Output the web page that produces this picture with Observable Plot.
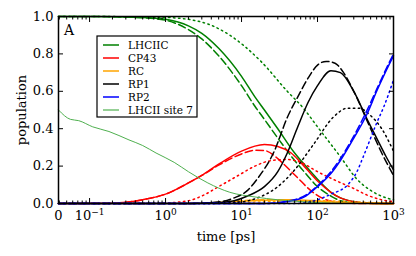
<!DOCTYPE html>
<html>
<head>
<meta charset="utf-8">
<script src="https://cdn.jsdelivr.net/npm/d3@7"></script>
<script src="https://cdn.jsdelivr.net/npm/@observablehq/plot@0.6"></script>
<style>
html,body{margin:0;padding:0;background:#fff;}
</style>
</head>
<body>
<div id="chart"></div>
<script>
// ---------- data (time in ps, population) ----------
const T0 = 0.039; // left edge of the axis, labelled "0"

const LHCIIC_solid  = [[0,1],[0.1,1],[0.5,0.995],[1,0.985],[2,0.95],[3,0.91],[5,0.83],[10,0.68],[15,0.57],[20,0.50],[30,0.40],[50,0.27],[70,0.2],[100,0.13],[150,0.06],[200,0.03],[300,0.01],[500,0.002],[1000,0]];
const LHCIIC_dashed = [[0,1],[0.1,1],[0.5,0.993],[1,0.98],[2,0.93],[3,0.88],[5,0.79],[10,0.63],[15,0.52],[20,0.45],[30,0.35],[50,0.23],[70,0.16],[100,0.09],[150,0.04],[200,0.015],[300,0.004],[1000,0]];
const LHCIIC_dotted = [[0,1],[0.1,1],[1,0.995],[3,0.97],[7,0.90],[18,0.76],[40,0.60],[65,0.51],[100,0.41],[200,0.25],[330,0.13],[500,0.07],[800,0.03],[1000,0.02]];

const CP43_solid  = [[0,0],[0.2,0.002],[0.5,0.02],[1,0.05],[2,0.11],[3,0.15],[5,0.21],[10,0.28],[20,0.315],[30,0.305],[45,0.27],[60,0.22],[100,0.12],[150,0.06],[200,0.03],[300,0.01],[500,0.002],[1000,0]];
const CP43_dashed = [[0,0],[0.2,0.002],[0.5,0.02],[1,0.05],[2,0.11],[3,0.15],[5,0.205],[10,0.265],[15,0.285],[20,0.283],[30,0.24],[36,0.21],[54,0.14],[81,0.07],[120,0.025],[200,0.005],[400,0],[1000,0]];
const CP43_dotted = [[0,0],[0.5,0],[1,0.003],[2,0.015],[3,0.04],[5,0.09],[10,0.16],[15,0.2],[25,0.23],[40,0.235],[60,0.22],[100,0.17],[180,0.12],[300,0.08],[450,0.045],[700,0.02],[1000,0.01]];

const RC_solid  = [[0,0],[2,0],[5,0.005],[10,0.012],[20,0.018],[40,0.02],[70,0.018],[100,0.014],[200,0.006],[400,0.002],[1000,0]];
const RC_dashed = [[0,0],[2,0],[5,0.006],[10,0.015],[20,0.02],[40,0.018],[70,0.013],[100,0.009],[200,0.003],[1000,0]];
const RC_dotted = [[0,0],[3,0],[10,0.005],[30,0.012],[60,0.015],[100,0.015],[200,0.012],[400,0.007],[700,0.003],[1000,0.002]];

const RP1_solid  = [[0,0],[2,0],[5,0.005],[8,0.015],[12,0.04],[20,0.09],[30,0.17],[40,0.27],[55,0.41],[75,0.54],[100,0.63],[150,0.71],[200,0.70],[300,0.60],[450,0.45],[600,0.35],[800,0.25],[1000,0.18]];
const RP1_dashed = [[0,0],[2,0],[5,0.008],[8,0.03],[12,0.07],[16,0.13],[27,0.28],[40,0.46],[55,0.57],[75,0.67],[100,0.74],[130,0.76],[170,0.75],[220,0.70],[300,0.60],[500,0.40],[700,0.27],[1000,0.15]];
const RP1_dotted = [[0,0],[3,0],[8,0.005],[15,0.025],[30,0.09],[50,0.18],[90,0.32],[160,0.46],[250,0.51],[350,0.51],[500,0.47],[700,0.40],[1000,0.28]];

const RP2_solid  = [[0,0],[20,0],[40,0.01],[70,0.04],[100,0.09],[150,0.16],[200,0.23],[300,0.35],[450,0.48],[600,0.60],[800,0.71],[1000,0.79]];
const RP2_dashed = [[0,0],[20,0],[40,0.012],[70,0.045],[100,0.095],[150,0.17],[200,0.24],[300,0.36],[450,0.50],[600,0.61],[800,0.72],[1000,0.80]];
const RP2_dotted = [[0,0],[50,0],[100,0.02],[150,0.05],[250,0.10],[330,0.17],[400,0.25],[600,0.43],[750,0.52],[1000,0.66]];

const LHCII_site7 = [[0,0.50],[0.056,0.45],[0.072,0.443],[0.11,0.41],[0.18,0.385],[0.33,0.34],[0.5,0.31],[0.75,0.27],[1.3,0.22],[2,0.17],[3.6,0.11],[7,0.06],[15,0.035],[30,0.02],[60,0.01],[100,0.005],[200,0.001],[1000,0]];

const species = ["LHCIIC","CP43","RC","RP1","RP2","LHCII site 7"];
const colors  = ["#008000","#ff0000","#ffa500","#000000","#0000ff","#4fb04f"];

const xMajor = [T0, 0.1, 1, 10, 100, 1000];
const xTickBase = ["0","10","10","10","10","10"];
const xTickExp  = ["","\u22121","0","1","2","3"];
const yTicks = [0, 0.2, 0.4, 0.6, 0.8, 1.0];
const xMinor = [];
for (const e of [-2,-1,0,1,2]) for (const m of [2,3,4,5,6,7,8,9]) { const v = m*Math.pow(10,e); if (v > T0 && v < 1000) xMinor.push(v); }

const FONT = "'DejaVu Serif','Liberation Serif',serif";

// ---------- marks ----------
const DASH = "7.5,3.5", DOT = "1.5,3.5";
const X = d => Math.max(d[0], T0), Y = d => d[1];
function ln(data, color, dash, w=1.5) {
  return Plot.line(data, {x: X, y: Y, stroke: color, strokeWidth: w, strokeDasharray: dash, curve: "monotone-x"});
}
const groups = [
  [LHCIIC_solid, LHCIIC_dashed, LHCIIC_dotted],
  [CP43_solid, CP43_dashed, CP43_dotted],
  [RC_solid, RC_dashed, RC_dotted],
  [RP1_solid, RP1_dashed, RP1_dotted],
  [RP2_solid, RP2_dashed, RP2_dotted]
];
const lineMarks = [];
groups.forEach((g, i) => {
  lineMarks.push(ln(g[0], colors[i], null));
  lineMarks.push(ln(g[1], colors[i], DASH));
  lineMarks.push(ln(g[2], colors[i], DOT));
});
lineMarks.push(ln(LHCII_site7, colors[5], null, 1));

const chart = Plot.plot({
  width: 416, height: 256,
  marginLeft: 58, marginRight: 23, marginTop: 16, marginBottom: 53,
  style: {fontFamily: FONT, fontSize: "13px", background: "#fff", color: "#000"},
  x: {type: "log", domain: [T0, 1000]},
  y: {domain: [0, 1]},
  marks: [
    ...lineMarks,
    Plot.axisX({ticks: xMajor, tickSize: -5, tickPadding: 12, tickFormat: () => "x", label: "time [ps]", labelAnchor: "center", labelOffset: 37, labelArrow: "none"}),
    Plot.axisX({ticks: xMinor, tickSize: -2.5, tickFormat: () => "", label: null}),
    Plot.axisX({anchor: "top", ticks: xMajor, tickSize: -5, tickFormat: () => "", label: null}),
    Plot.axisX({anchor: "top", ticks: xMinor, tickSize: -2.5, tickFormat: () => "", label: null}),
    Plot.axisY({ticks: yTicks, tickSize: -5, tickPadding: 10, tickFormat: d3.format(".1f"), label: "population", labelAnchor: "center", labelOffset: 42, labelArrow: "none"}),
    Plot.axisY({anchor: "right", ticks: yTicks, tickSize: -5, tickFormat: () => "", label: null}),
    Plot.frame({stroke: "#000", strokeWidth: 1.5})
  ]
});
document.getElementById("chart").appendChild(chart);

// x tick labels with superscript exponents (in tick order)
const svg = d3.select(chart);
svg.select('[aria-label="x-axis tick label"]').selectAll("text").each(function(d, i) {
  const t = d3.select(this);
  t.text(null);
  t.append("tspan").text(xTickBase[i]);
  if (xTickExp[i]) t.append("tspan").attr("dy", "-0.5em").attr("font-size", "9px").text(xTickExp[i]);
});

// panel letter
svg.append("text").attr("x", 64).attr("y", 35).attr("text-anchor", "start").attr("font-family", FONT).attr("font-size", "14px").text("A");

// legend
const lg = svg.append("g").attr("font-family", FONT).attr("font-size", "10.5px").attr("text-anchor", "start");
lg.append("rect").attr("x", 97).attr("y", 36).attr("width", 100).attr("height", 81).attr("fill", "#fff").attr("stroke", "#000").attr("stroke-width", 1.2);
species.forEach((s, i) => {
  const yy = 45 + i * 13;
  lg.append("line").attr("x1", 103).attr("x2", 119).attr("y1", yy).attr("y2", yy).attr("stroke", colors[i]).attr("stroke-width", i === 5 ? 1.2 : 1.5);
  lg.append("text").attr("x", 128).attr("y", yy).attr("dy", "0.35em").text(s);
});
</script>
</body>
</html>
